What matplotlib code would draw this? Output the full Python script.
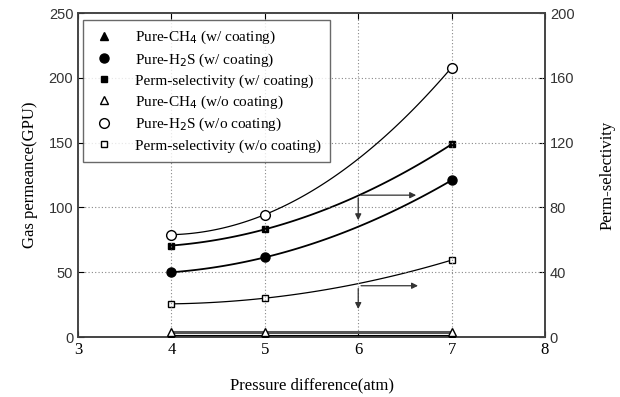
import numpy as np
import matplotlib
matplotlib.use("Agg")
import matplotlib.pyplot as plt

pressure = [4, 5, 7]

# left axis: gas permeance (GPU)
ch4_coat = [1, 1, 1]
h2s_coat = [50, 61.5, 121]
ch4_nocoat = [4, 4, 4]
h2s_nocoat = [79, 94.5, 208]

# right axis: perm-selectivity
sel_coat = [56.5, 66.5, 119]
sel_nocoat = [20.5, 24, 47.5]

serif = "Liberation Serif"
sans = "Liberation Sans"

fig = plt.figure(figsize=(6.2, 3.97), dpi=100)
ax = fig.add_axes([0.126, 0.151, 0.753, 0.816])
ax2 = ax.twinx()

xs = np.linspace(4, 7, 100)


def smooth(axis, y, lw=1.0):
    c = np.polyfit(pressure, y, 2)
    axis.plot(xs, np.polyval(c, xs), color="black", lw=lw, zorder=2)


# CH4 lines (flat)
ax.plot(pressure, ch4_nocoat, color="#555555", lw=2.2, zorder=2)
ax.plot(pressure, ch4_coat, color="black", lw=2.2, zorder=2)
smooth(ax, h2s_coat, 1.3)
smooth(ax, h2s_nocoat, 0.9)
smooth(ax2, sel_coat, 1.3)
smooth(ax2, sel_nocoat, 0.9)

ms = 6
h1, = ax.plot(pressure, ch4_coat, "^", color="black", ms=ms, ls="none", zorder=3,
              label="Pure-CH$_4$ (w/ coating)")
h2, = ax.plot(pressure, h2s_coat, "o", color="black", ms=ms + 0.5, ls="none", zorder=3,
              label="Pure-H$_2$S (w/ coating)")
h3, = ax2.plot(pressure, sel_coat, "s", color="black", ms=5, ls="none", zorder=3,
               label="Perm-selectivity (w/ coating)")
h4, = ax.plot(pressure, ch4_nocoat, "^", mfc="white", mec="black", ms=ms, ls="none", zorder=3,
              label="Pure-CH$_4$ (w/o coating)")
h5, = ax.plot(pressure, h2s_nocoat, "o", mfc="white", mec="black", ms=ms + 1, ls="none", zorder=3,
              label="Pure-H$_2$S (w/o coating)")
h6, = ax2.plot(pressure, sel_nocoat, "s", mfc="white", mec="black", ms=5, ls="none", zorder=3,
               label="Perm-selectivity (w/o coating)")

# arrows pointing to the right axis and down
akw = dict(arrowstyle="-|>", color="#333333", lw=0.9, mutation_scale=9)
ax.annotate("", xy=(6.65, 109.5), xytext=(6, 109.5), arrowprops=akw)
ax.annotate("", xy=(6, 88), xytext=(6, 109.5), arrowprops=akw)
ax.annotate("", xy=(6.67, 39.6), xytext=(6, 39.6), arrowprops=akw)
ax.annotate("", xy=(6, 19.5), xytext=(6, 39.6), arrowprops=akw)

ax.set_xlim(3, 8)
ax.set_ylim(0, 250)
ax2.set_ylim(0, 200)
ax.set_xticks([3, 4, 5, 6, 7, 8])
ax.set_yticks([0, 50, 100, 150, 200, 250])
ax2.set_yticks([0, 40, 80, 120, 160, 200])
ax.grid(True, ls=(0, (1, 2)), color="#888888", lw=0.8)

ax.tick_params(direction="in", length=4, top=True, labelsize=10.5)
ax2.tick_params(direction="in", length=4, labelsize=10.5)
for lab in ax.get_yticklabels() + ax2.get_yticklabels():
    lab.set_family(sans)
    lab.set_color("#333333")
for lab in ax.get_xticklabels():
    lab.set_family(serif)
    lab.set_fontsize(12)
for a in (ax, ax2):
    for s in a.spines.values():
        s.set_linewidth(1.2)
        s.set_color("#444444")

ax.set_xlabel("Pressure difference(atm)", family=serif, fontsize=12, labelpad=14)
ax.set_ylabel("Gas permeance(GPU)", family=serif, fontsize=12, labelpad=8)
ax2.set_ylabel("Perm-selectivity", family=serif, fontsize=12, labelpad=18)

leg = ax.legend(handles=[h1, h2, h3, h4, h5, h6], loc="upper left",
                bbox_to_anchor=(0.01, 0.98), prop={"family": serif, "size": 11},
                frameon=True, fancybox=False, handlelength=1.6, handletextpad=1.2,
                borderpad=0.6, labelspacing=0.35, borderaxespad=0)
leg.get_frame().set_edgecolor("#444444")
leg.get_frame().set_linewidth(1.0)
leg.set_zorder(5)
ax.set_zorder(ax2.get_zorder() + 1)
ax.patch.set_visible(False)

fig.savefig("out.png", dpi=100)
